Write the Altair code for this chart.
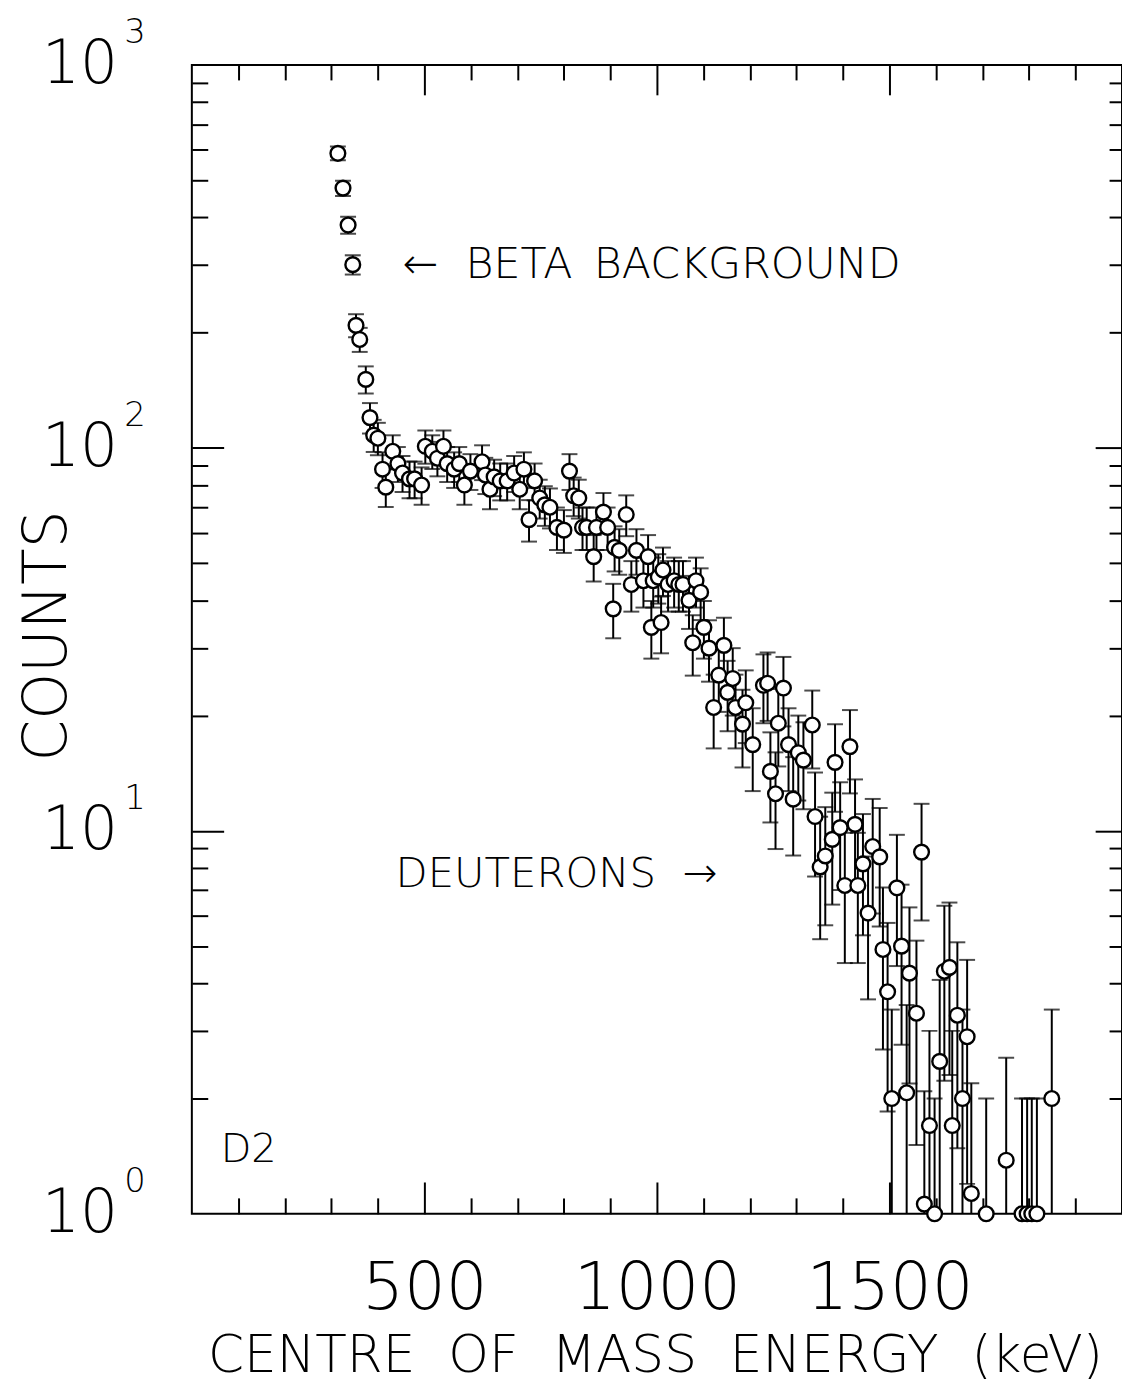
import altair as alt
import pandas as pd

# ---- data ----
energy_kev = [314, 325, 336, 346, 353, 361, 374, 383, 391, 400, 410, 417, 432, 443, 453, 468, 479, 494,
              502, 517, 528, 541, 549, 564, 575, 586, 599, 624, 631, 641, 650, 663, 678, 693, 705, 714,
              725, 737, 748, 759, 770, 785, 800, 812, 821, 832, 840, 849, 864, 870, 885, 894, 906, 909,
              919, 934, 945, 956, 971, 981, 988, 992, 1003, 1009, 1013, 1024, 1037, 1047, 1056, 1069,
              1077, 1084, 1094, 1101, 1112, 1122, 1133, 1144, 1152, 1163, 1169, 1184, 1191, 1206, 1229,
              1238, 1244, 1255, 1261, 1272, 1283, 1293, 1304, 1315, 1334, 1340, 1351, 1362, 1377, 1383,
              1394, 1404, 1415, 1426, 1432, 1443, 1454, 1464, 1479, 1486, 1496, 1505, 1516, 1526, 1537,
              1543, 1558, 1569, 1575, 1586, 1597, 1608, 1618, 1629, 1635, 1646, 1657, 1667, 1676, 1708,
              1751, 1785, 1796, 1806, 1817, 1849]
counts = [588, 477, 382, 301, 209, 192, 151, 120, 108, 106, 88, 79, 98, 91, 86, 83, 83, 80,
          101, 98, 94, 101, 91, 88, 91, 80, 87, 92, 85, 78, 84, 82, 82, 86, 78, 88,
          65, 82, 74, 71, 70, 62, 61, 87, 75, 74, 62, 62, 52, 62, 68, 62, 38, 55,
          54, 67, 44, 54, 45, 52, 34, 45, 46, 35, 48, 44, 45, 44, 44, 40,
          31, 45, 42, 34, 30, 21, 25.5, 30.5, 23, 25, 21, 19, 21.6, 16.8, 24,
          24.3, 14.3, 12.5, 19.1, 23.6, 16.8, 12.1, 16, 15.3, 18.9, 10.9, 8.05, 8.6, 9.5, 15.1,
          10.2, 7.2, 16.6, 10.4, 7.2, 8.2, 6.1, 9.1, 8.55, 4.9, 3.8, 2.0, 7.1, 5.0, 2.07,
          4.25, 3.34, 8.8, 1.06, 1.7, 1.0, 2.5, 4.3, 4.4, 1.7, 3.3, 2.0, 2.9, 1.13, 1.0,
          1.38, 1.0, 1.0, 1.0, 1.0, 2.0]

decades = [1, 10, 100, 1000]
exponents = ["0", "1", "2", "3"]
x_major = [500, 1000, 1500]
x_minor = [100, 200, 300, 400, 600, 700, 800, 900, 1100, 1200, 1300, 1400, 1600, 1700, 1800, 1900]
y_major = [10, 100]
y_minor = [2, 3, 4, 5, 6, 7, 8, 9, 20, 30, 40, 50, 60, 70, 80, 90, 200, 300, 400, 500, 600, 700, 800, 900]

x_title = "CENTRE\u00a0\u00a0OF\u00a0\u00a0MASS\u00a0\u00a0ENERGY\u00a0\u00a0(keV)"
y_title = "COUNTS"
note_beta = "\u2190\u00a0\u00a0BETA\u2002BACKGROUND"
note_deut = "DEUTERONS\u00a0\u00a0\u2192"
note_panel = "D2"

# ---- layout / style ----
W, H = 936, 1156
FONT = "DejaVu Sans"
FW = 200

df = pd.DataFrame({"E": energy_kev, "C": counts})
base = alt.Chart(df).transform_calculate(
    lo="max(datum.C - sqrt(datum.C), 0.05)",
    hi="datum.C + sqrt(datum.C)",
)

xs = alt.Scale(domain=[0, 2000], nice=False, zero=False)
ys = alt.Scale(type="log", domain=[1, 1000], nice=False)


def tick_axis(orient, values, size, offset):
    return alt.Axis(orient=orient, offset=offset, values=values, tickSize=size, tickWidth=2,
                    tickColor="black", labels=False, domain=False, grid=False, title=None)


rules = base.mark_rule(color="black", strokeWidth=2, clip=True).encode(
    x=alt.X("E:Q", scale=xs, axis=alt.Axis(
        orient="bottom", values=x_major, format="d", ticks=False, tickSize=0, domain=False,
        grid=False, labelFont=FONT, labelFontSize=66, labelFontWeight=FW, labelColor="black",
        labelPadding=95, labelBaseline="alphabetic", labelFlush=False, labelOverlap=False,
        labelLimit=1000,
        title=x_title, titleFont=FONT, titleFontSize=52, titleFontWeight=FW, titleColor="black",
        titleX=466, titleY=159, titleBaseline="alphabetic", titleAlign="center",
        titleLimit=2000)),
    y=alt.Y("lo:Q", scale=ys, axis=alt.Axis(
        orient="left", values=decades, labelExpr="'10'", ticks=False, tickSize=0, domain=False,
        grid=False, labelFont=FONT, labelFontSize=60, labelFontWeight=FW, labelColor="black",
        labelPadding=75, labelBaseline="middle", labelAlign="right", labelOverlap=False,
        labelFlush=False,
        title=y_title, titleFont=FONT, titleFontSize=60, titleFontWeight=FW, titleColor="black",
        titleX=-127, titleY=574, titleAngle=270, titleBaseline="alphabetic", titleAlign="center",
        titleLimit=2000)),
    y2="hi:Q",
)

caps_hi = base.mark_tick(orient="horizontal", color="black", thickness=2, size=16, clip=True).encode(
    x=alt.X("E:Q", scale=xs, axis=tick_axis("top", x_minor, 16, -H)),
    y=alt.Y("hi:Q", scale=ys, axis=tick_axis("right", y_minor, 16, -W)),
)

caps_lo = base.mark_tick(orient="horizontal", color="black", thickness=2, size=16, clip=True).encode(
    x=alt.X("E:Q", scale=xs, axis=tick_axis("top", x_major, 32, -H)),
    y=alt.Y("lo:Q", scale=ys, axis=tick_axis("right", y_major, 32, -W)),
)

points = base.mark_point(shape="circle", size=220, fill="white", stroke="black",
                         strokeWidth=2.4, opacity=1, filled=False).encode(
    x=alt.X("E:Q", scale=xs, axis=tick_axis("bottom", x_minor, 15, -H)),
    y=alt.Y("C:Q", scale=ys, axis=tick_axis("left", y_minor, 13, -W)),
)

ghost = base.mark_point(opacity=0).encode(
    x=alt.X("E:Q", scale=xs, axis=tick_axis("bottom", x_major, 30, -H)),
    y=alt.Y("C:Q", scale=ys, axis=tick_axis("left", y_major, 27, -W)),
)

exp_df = pd.DataFrame({"v": decades, "e": exponents})
exps = alt.Chart(exp_df).mark_text(font=FONT, fontSize=34, fontWeight=FW, align="left",
                                   baseline="middle", dy=-32, color="black").encode(
    x=alt.value(-68),
    y=alt.Y("v:Q", scale=ys, axis=None),
    text="e:N",
)


def note(txt, px, py, size):
    return alt.Chart(pd.DataFrame({"t": [txt]})).mark_text(
        font=FONT, fontSize=size, fontWeight=FW, align="left", baseline="alphabetic",
        color="black").encode(x=alt.value(px), y=alt.value(py), text="t:N")


chart = alt.layer(
    rules, caps_hi, caps_lo, points, ghost, exps,
    note(note_beta, 212, 214, 43),
    note(note_deut, 205, 827, 42),
    note(note_panel, 29, 1104, 40),
).resolve_axis(x="independent", y="independent").properties(
    width=W, height=H,
    autosize=alt.AutoSizeParams(type="none"),
    padding={"left": 185, "top": 53, "right": 0, "bottom": 180},
    background="white",
).configure_view(stroke="black", strokeWidth=2)

chart.save("out.html", embed_options={"renderer": "svg", "actions": False})
